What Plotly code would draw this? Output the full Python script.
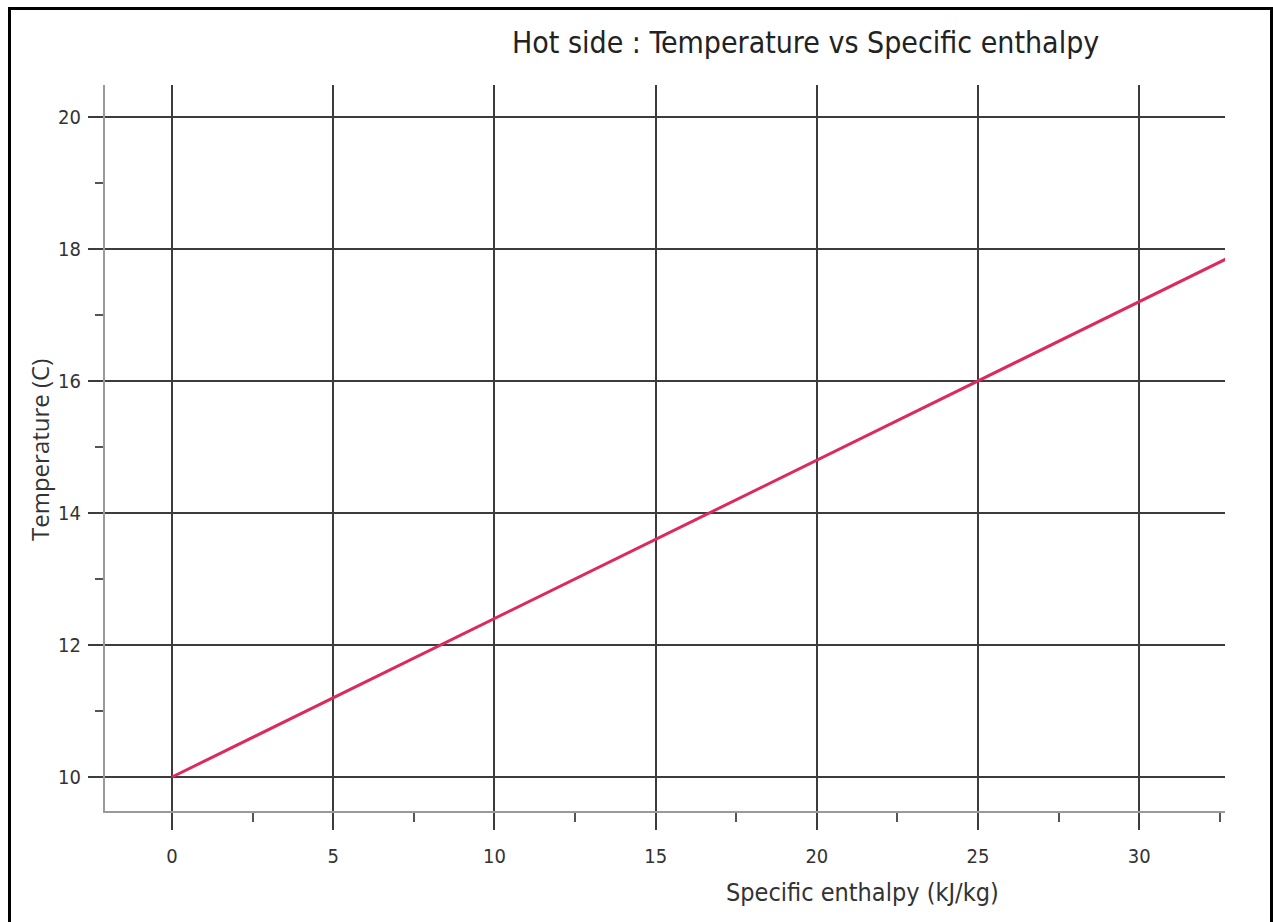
import plotly.graph_objects as go

# Data
enthalpy = [0, 5, 10, 15, 20, 25, 30, 32.7]          # kJ/kg
temperature = [10.0, 11.2, 12.4, 13.6, 14.8, 16.0, 17.2, 17.85]  # C

x_ticks = [0, 5, 10, 15, 20, 25, 30]
y_ticks = [10, 12, 14, 16, 18, 20]

title_text = "Hot side : Temperature vs Specific enthalpy"
x_title = "Specific enthalpy (kJ/kg)"
y_title = "Temperature (C)"

W, H = 1273, 922
L, R, T, B = 105, 48, 85, 111
pw, ph = W - L - R, H - T - B

def px(xpix):
    return (xpix - L) / pw

def py(ypix):
    return (H - B - ypix) / ph

narrow = "Liberation Sans Narrow, Arial Narrow, DejaVu Sans Condensed, sans-serif"
grid_col = "#3c3c3c"
axis_col = "#9a9a9a"

fig = go.Figure()
fig.add_trace(go.Scatter(
    x=enthalpy, y=temperature, mode="lines",
    line=dict(color="#dc2a5c", width=3),
    showlegend=False, hoverinfo="skip",
))

fig.update_layout(
    width=W, height=H,
    margin=dict(l=L, r=R, t=T, b=B),
    paper_bgcolor="white", plot_bgcolor="white",
    showlegend=False,
)

fig.update_xaxes(
    range=[-2.08, 32.66],
    tickvals=x_ticks, ticktext=[str(v) for v in x_ticks],
    showgrid=True, gridcolor=grid_col, gridwidth=2,
    zeroline=False,
    showline=True, linecolor=axis_col, linewidth=2,
    ticks="outside", ticklen=17, tickwidth=2, tickcolor=grid_col,
    ticklabelstandoff=9,
    tickfont=dict(family=narrow, size=20, color="#333333"),
    minor=dict(dtick=2.5, tick0=0, ticks="outside", ticklen=9, tickwidth=2,
               tickcolor="#555555", showgrid=False),
)
fig.update_yaxes(
    range=[9.485, 20.485],
    tickvals=y_ticks, ticktext=[str(v) for v in y_ticks],
    showgrid=True, gridcolor=grid_col, gridwidth=2,
    zeroline=False,
    showline=True, linecolor=axis_col, linewidth=2,
    ticks="outside", ticklen=15, tickwidth=2, tickcolor=grid_col,
    ticklabelstandoff=3,
    tickfont=dict(family=narrow, size=20, color="#333333"),
    minor=dict(dtick=1, tick0=0, ticks="outside", ticklen=8, tickwidth=2,
               tickcolor="#555555", showgrid=False),
)

# Title and axis titles
fig.add_annotation(text=title_text, x=px(805), y=py(42), xref="paper", yref="paper",
                   showarrow=False, xanchor="center", yanchor="middle",
                   font=dict(family=narrow, size=30, color="#222222"))
fig.add_annotation(text=x_title, x=px(862), y=py(892), xref="paper", yref="paper",
                   showarrow=False, xanchor="center", yanchor="middle",
                   font=dict(family=narrow, size=25, color="#333333"))
fig.add_annotation(text=y_title, x=px(40), y=py(450), xref="paper", yref="paper",
                   showarrow=False, xanchor="center", yanchor="middle", textangle=-90,
                   font=dict(family="Open Sans, sans-serif", size=24, color="#333333"))

# Outer frame
fig.add_shape(type="rect", xref="paper", yref="paper",
              x0=px(9.5), x1=px(1271.5), y0=py(930), y1=py(8.5),
              line=dict(color="black", width=3), fillcolor="rgba(0,0,0,0)")

fig.write_html("out.html",
               config={"displayModeBar": False},
               post_script="document.body.style.margin='0';document.body.style.overflow='hidden';")
